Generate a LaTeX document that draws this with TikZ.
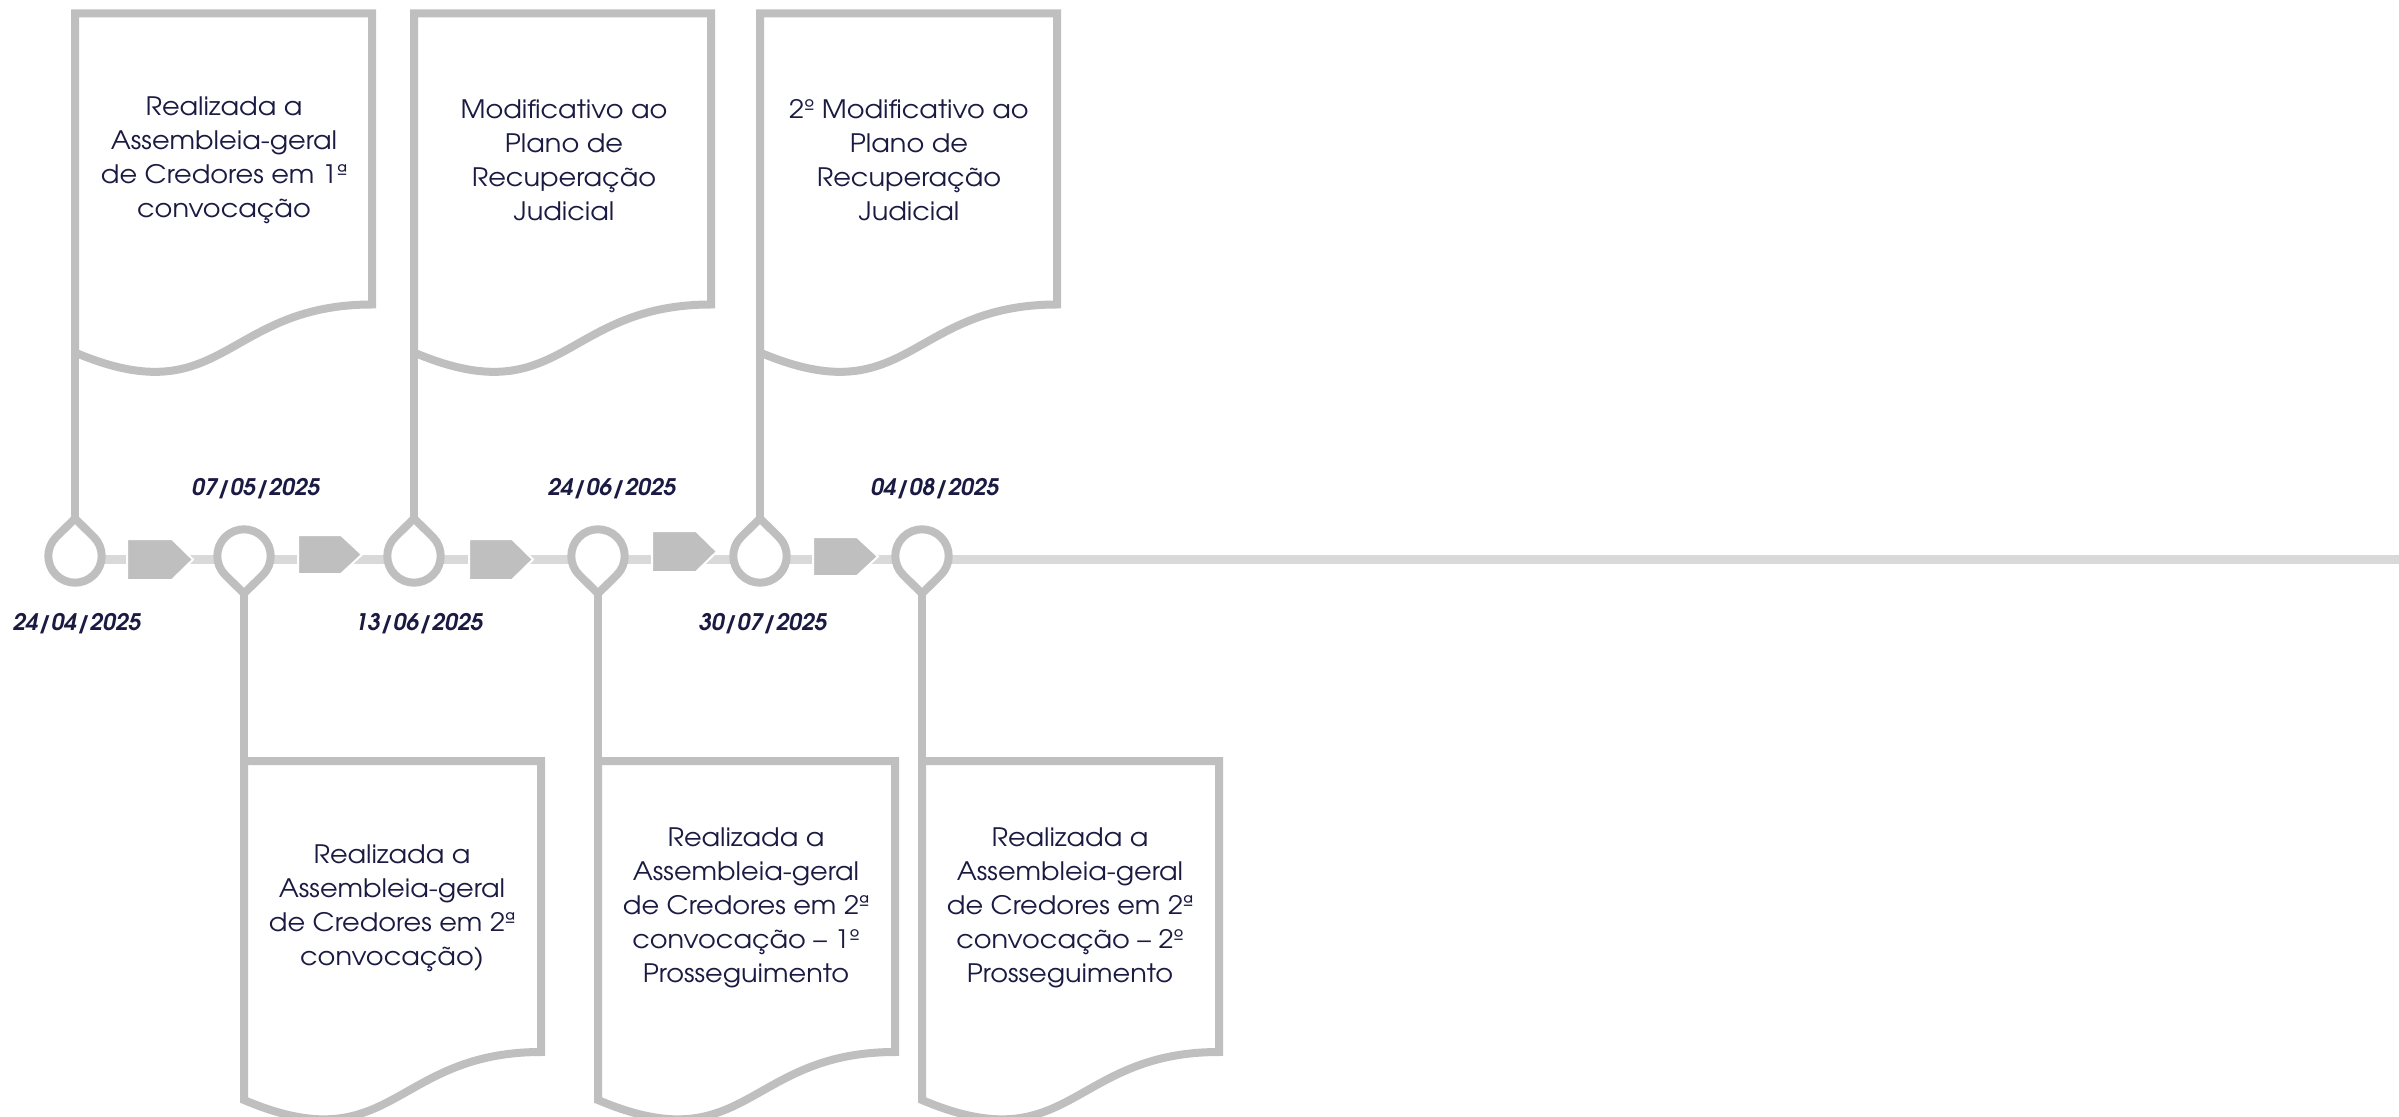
\documentclass[tikz,border=0pt]{standalone}
\usepackage{fontspec}
\setmainfont{texgyreadventor}[Extension=.otf, UprightFont=*-regular, BoldFont=*-bold, ItalicFont=*-italic, BoldItalicFont=*-bolditalic]
\newfontfamily\boxfont{texgyreadventor}[Extension=.otf, UprightFont=*-regular, FakeStretch=1.07]
\definecolor{pingray}{RGB}{191,191,191}
\definecolor{linegray}{RGB}{217,217,217}
\definecolor{navy}{RGB}{26,26,66}
\newcommand\docbox[3]{% left x, top y, name
  \draw[boxline] (#1,#2) -- (#1+297,#2) -- (#1+297,#2+291)
    .. controls (#1+148.5,#2+291) and (#1+148.5,#2+402) .. (#1,#2+339) -- cycle;
  \coordinate (#3-top) at (#1,#2);
  \coordinate (#3-bot) at (#1,#2+339);
}
\newcommand\uppin[2]{% cx, name
  \draw[pinline] (#1,518.5) -- (#1+18.88,537.12) arc[start angle=-45,end angle=225,radius=26.7] -- cycle;
  \coordinate (#2) at (#1,518.5);
}
\newcommand\downpin[2]{% cx, name
  \draw[pinline] (#1,593.5) -- (#1+18.88,574.88) arc[start angle=45,end angle=-225,radius=26.7] -- cycle;
  \coordinate (#2) at (#1,593.5);
}
\newcommand\homeplate[4]{% x1, x2, ytop, ybot
  \draw[plate] (#1,#3) -- (#2-21,#3) -- (#2,#3/2+#4/2) -- (#2-21,#4) -- (#1,#4) -- cycle;
}
\begin{document}
\begin{tikzpicture}[x=0.5pt,y=-0.5pt,
  boxline/.style={draw=pingray, line width=4pt, fill=white, line join=miter},
  stem/.style={draw=pingray, line width=4pt},
  pinline/.style={draw=pingray, line width=4pt, fill=white, line join=round},
  plate/.style={fill=pingray, draw=white, line width=1pt},
  datelbl/.style={font=\fontsize{11.4}{14}\selectfont\bfseries\itshape, text=navy, anchor=base, inner sep=0pt},
  boxtext/.style={font=\boxfont\fontsize{12.7}{17}\selectfont, text=navy, align=center, inner sep=0pt}]
\useasboundingbox (0,0) rectangle (2399,1117);
% timeline
\coordinate (tl-start) at (75,559);
\coordinate (tl-end) at (2399,559);
\draw[linegray, line width=4.5pt] (tl-start) -- (tl-end);
% arrows
\homeplate{127}{193}{539}{580}
\homeplate{298}{362}{535}{574}
\homeplate{469}{533}{539}{580}
\homeplate{652}{717}{531}{572}
\homeplate{813}{878}{537}{576}
% boxes
\docbox{75}{13.5}{b1}
\docbox{414}{13.5}{b2}
\docbox{760}{13.5}{b3}
\docbox{244}{761}{b4}
\docbox{598}{761}{b5}
\docbox{922}{761}{b6}
% pins
\uppin{75}{p1}
\downpin{244}{p2}
\uppin{414}{p3}
\downpin{598}{p4}
\uppin{760}{p5}
\downpin{922}{p6}
% stems
\draw[stem] (p1) -- (b1-bot);
\draw[stem] (p3) -- (b2-bot);
\draw[stem] (p5) -- (b3-bot);
\draw[stem] (p2) -- (b4-top);
\draw[stem] (p4) -- (b5-top);
\draw[stem] (p6) -- (b6-top);
% dates
\node[datelbl] (d1) at (77,630) {24/04/2025};
\node[datelbl] (d2) at (256,495) {07/05/2025};
\node[datelbl] (d3) at (419,630) {13/06/2025};
\node[datelbl] (d4) at (612,495) {24/06/2025};
\node[datelbl] (d5) at (763,630) {30/07/2025};
\node[datelbl] (d6) at (935,495) {04/08/2025};
% texts
\node[boxtext] (t1) at (224,160) {Realizada a\\Assembleia-geral\\de Credores em 1ª\\convocação};
\node[boxtext] (t2) at (564,160) {Modificativo ao\\Plano de\\Recuperação\\Judicial};
\node[boxtext] (t3) at (909,160) {2º Modificativo ao\\Plano de\\Recuperação\\Judicial};
\node[boxtext] (t4) at (392,908) {Realizada a\\Assembleia-geral\\de Credores em 2ª\\convocação)};
\node[boxtext] (t5) at (746,908) {Realizada a\\Assembleia-geral\\de Credores em 2ª\\convocação – 1º\\Prosseguimento};
\node[boxtext] (t6) at (1070,908) {Realizada a\\Assembleia-geral\\de Credores em 2ª\\convocação – 2º\\Prosseguimento};
\end{tikzpicture}
\end{document}
